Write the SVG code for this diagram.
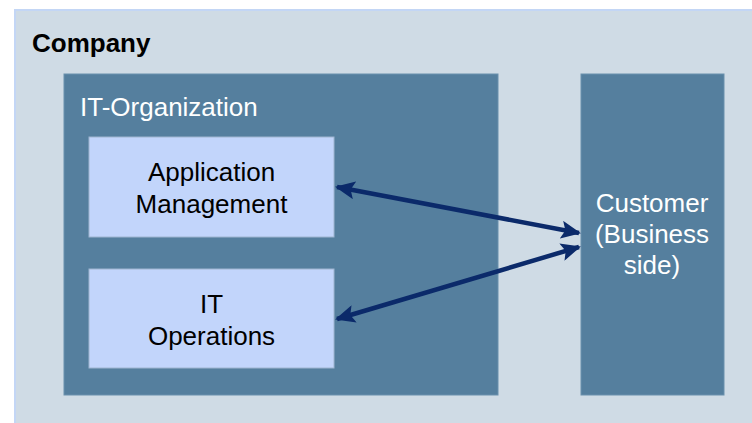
<svg xmlns="http://www.w3.org/2000/svg" width="752" height="423" viewBox="0 0 752 423">
  <defs>
    <style>
      .company { fill: #cfdbe5; stroke: #c3d6f5; stroke-width: 2; }
      .dark { fill: #557f9e; stroke: #6b91ad; stroke-width: 1; }
      .light { fill: #c2d5fb; stroke: #9fb5d0; stroke-width: 1; }
      .t { font-family: "Liberation Sans", Arial, sans-serif; font-size: 26px; }
      .white { fill: #ffffff; }
      .black { fill: #000000; }
      .conn { stroke: #0b2a6a; stroke-width: 4.5; fill: none; marker-start: url(#head); marker-end: url(#head); }
    </style>
    <marker id="head" viewBox="0 0 10 10" refX="9" refY="5" markerWidth="4.4" markerHeight="4" orient="auto-start-reverse" markerUnits="strokeWidth" preserveAspectRatio="none">
      <path d="M0,0 L10,5 L0,10 L2,5 Z" fill="#0b2a6a"/>
    </marker>
  </defs>

  <g id="company">
    <rect class="company" x="15" y="10" width="745" height="420"/>
    <text class="t black" x="32" y="52" font-weight="bold" font-size="24.5">Company</text>
  </g>

  <g id="it-organization">
    <rect class="dark" x="64" y="74" width="434" height="321"/>
    <text class="t white" x="80" y="116">IT-Organization</text>
  </g>

  <g id="application-management">
    <rect class="light" x="89" y="137" width="245" height="100"/>
    <text class="t black" text-anchor="middle" x="211.5" y="181">Application</text>
    <text class="t black" text-anchor="middle" x="211.5" y="213">Management</text>
  </g>

  <g id="it-operations">
    <rect class="light" x="89" y="269" width="245" height="99"/>
    <text class="t black" text-anchor="middle" x="211.5" y="313">IT</text>
    <text class="t black" text-anchor="middle" x="211.5" y="345">Operations</text>
  </g>

  <g id="customer">
    <rect class="dark" x="581" y="74" width="143" height="321"/>
    <text class="t white" text-anchor="middle" x="652" y="212">Customer</text>
    <text class="t white" text-anchor="middle" x="652" y="243">(Business</text>
    <text class="t white" text-anchor="middle" x="652" y="274">side)</text>
  </g>

  <g id="connectors">
    <line class="conn" x1="337" y1="187" x2="579" y2="233"/>
    <line class="conn" x1="337" y1="319" x2="579" y2="247"/>
  </g>
</svg>
